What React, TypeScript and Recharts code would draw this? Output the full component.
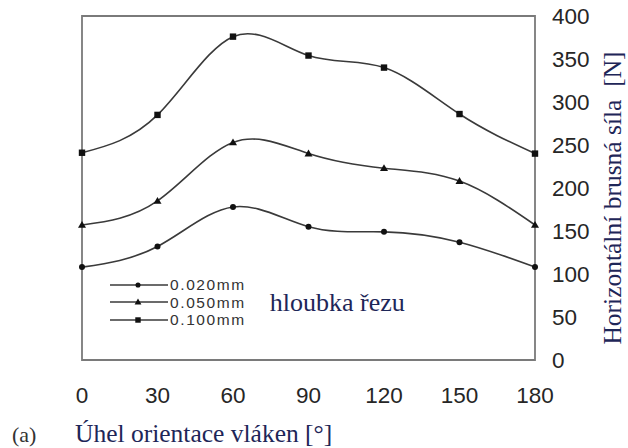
import React from 'react';
import { LineChart, Line, XAxis, YAxis, ReferenceArea, Legend, Label } from 'recharts';

const angles = [0, 30, 60, 90, 120, 150, 180];
const depth020 = [108, 132, 178, 155, 149, 137, 108];
const depth050 = [157, 185, 253, 240, 223, 208, 157];
const depth100 = [241, 285, 376, 354, 340, 286, 240];
const xTicks = [0, 30, 60, 90, 120, 150, 180];
const yTicks = [0, 50, 100, 150, 200, 250, 300, 350, 400];
const seriesNames = ['0.020mm', '0.050mm', '0.100mm'];
const seriesKeys = ['d020', 'd050', 'd100'];
const seriesShapes = ['circle', 'triangle', 'square'];

const data = angles.map((a, i) => ({ angle: a, d020: depth020[i], d050: depth050[i], d100: depth100[i] }));

const LINE = '#3a3a3a';
const MARK = '#111';
const NAVY = '#1e2658';
const SERIF = 'Liberation Serif, Times New Roman, serif';
const SANS = 'Liberation Sans, Arial, sans-serif';

function Marker({ cx, cy, shape, s = 1 }: { cx: number; cy: number; shape: string; s?: number }) {
  if (cx == null || cy == null) return null;
  if (shape === 'triangle') {
    const r = 4 * s;
    return <polygon points={`${cx},${cy - r} ${cx - r},${cy + r * 0.7} ${cx + r},${cy + r * 0.7}`} fill={MARK} />;
  }
  if (shape === 'square') {
    const h = 3.2 * s;
    return <rect x={cx - h} y={cy - h} width={h * 2} height={h * 2} fill={MARK} />;
  }
  return <circle cx={cx} cy={cy} r={3 * s} fill={MARK} />;
}

const makeDot = (shape: string) => (props: any) => (
  <Marker key={`${shape}-${props.index}`} cx={props.cx} cy={props.cy} shape={shape} />
);

const LegendContent = (props: any) => {
  const payload = props.payload || [];
  return (
    <div style={{ display: 'flex', alignItems: 'center' }}>
      <div style={{ display: 'flex', flexDirection: 'column' }}>
        {payload.map((entry: any, i: number) => {
          const idx = seriesKeys.indexOf(entry.dataKey);
          return (
            <div key={i} style={{ display: 'flex', alignItems: 'center', height: 17.5, overflow: 'visible' }}>
              <svg width={62} height={14} style={{ display: 'block' }}>
                <line x1={2} y1={7} x2={60} y2={7} stroke={LINE} strokeWidth={1.6} />
                <Marker cx={30} cy={7} shape={seriesShapes[idx]} s={0.85} />
              </svg>
              <span style={{ fontFamily: SANS, fontSize: 15.5, color: '#333', letterSpacing: 1.6, lineHeight: '15px', display: 'block' }}>
                {entry.value}
              </span>
            </div>
          );
        })}
      </div>
      <div style={{ fontFamily: SERIF, fontSize: 26, color: NAVY, marginLeft: 24, marginTop: 2 }}>hloubka řezu</div>
    </div>
  );
};

export default function App() {
  return (
    <div style={{ position: 'absolute', left: 0, top: 0, width: 628, height: 448, background: '#fff' }}>
      <LineChart width={628} height={448} data={data} margin={{ top: 16, right: 33, left: 82, bottom: 48 }}>
        <ReferenceArea x1={0} x2={180} y1={0} y2={400} yAxisId="r" fill="none" stroke="#7a7a7a" strokeWidth={1.8} ifOverflow="visible" />
        <XAxis
          dataKey="angle"
          type="number"
          domain={[0, 180]}
          ticks={xTicks}
          axisLine={false}
          tickLine={false}
          tickSize={0}
          tickMargin={27}
          height={40}
          tick={{ fontFamily: SANS, fontSize: 22.5, fill: '#262626' }}
        >
          <Label
            content={(p: any) => {
              const vb = p.viewBox || {};
              return (
                <g>
                  <text x={12} y={442} fontFamily={SERIF} fontSize={22} fill="#333">(a)</text>
                  <text x={vb.x - 7} y={442} fontFamily={SERIF} fontSize={25.5} fill={NAVY}>Úhel orientace vláken [°]</text>
                </g>
              );
            }}
          />
        </XAxis>
        <YAxis
          yAxisId="r"
          orientation="right"
          domain={[0, 400]}
          ticks={yTicks}
          axisLine={false}
          tickLine={false}
          tickSize={0}
          tickMargin={17}
          width={60}
          tick={{ fontFamily: SANS, fontSize: 22.5, fill: '#262626' }}
        >
          <Label
            content={(p: any) => {
              const vb = p.viewBox || {};
              const cx = vb.x + 77;
              const cy = 198;
              return (
                <text
                  x={cx}
                  y={cy}
                  transform={`rotate(-90 ${cx} ${cy})`}
                  textAnchor="middle"
                  dominantBaseline="central"
                  fontFamily={SERIF}
                  fontSize={25.5}
                  fill={NAVY}
                >
                  {'Horizontální brusná síla\u00a0\u00a0[N]'}
                </text>
              );
            }}
          />
        </YAxis>
        <Legend
          layout="vertical"
          align="center"
          verticalAlign="middle"
          content={LegendContent}
          wrapperStyle={{ position: 'absolute', left: 108, top: 276, width: 330 }}
        />
        {seriesKeys.map((k, i) => (
          <Line
            key={k}
            yAxisId="r"
            dataKey={k}
            name={seriesNames[i]}
            type="natural"
            stroke={LINE}
            strokeWidth={1.6}
            dot={makeDot(seriesShapes[i])}
            activeDot={false}
            isAnimationActive={false}
          />
        ))}
      </LineChart>
    </div>
  );
}
